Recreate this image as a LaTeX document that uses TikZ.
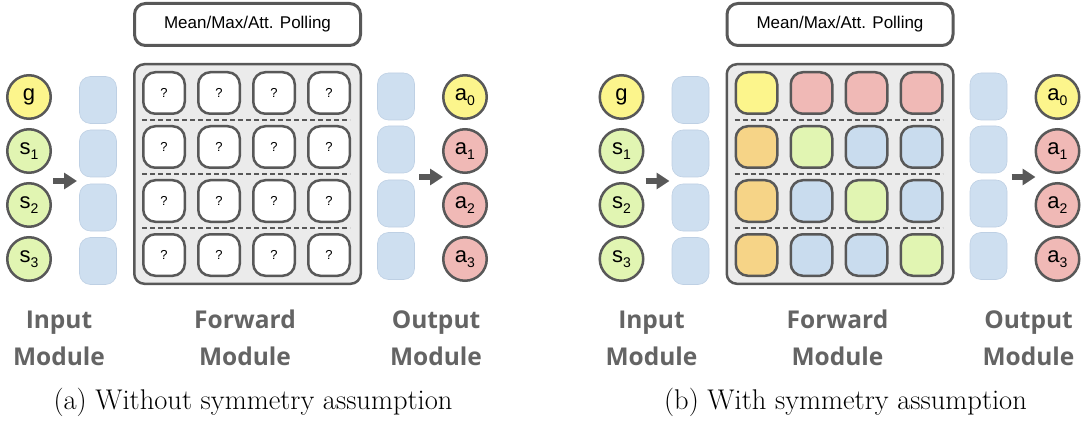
\documentclass[tikz,border=0pt]{standalone}
\usepackage{fontspec}
\usetikzlibrary{arrows.meta}
\newfontfamily\lsans{Liberation Sans}
\newfontfamily\modfont{Open Sans}
\definecolor{cyel}{RGB}{252,245,140}
\definecolor{cred}{RGB}{240,185,182}
\definecolor{cgrn}{RGB}{225,245,178}
\definecolor{cblu}{RGB}{201,220,238}
\definecolor{corg}{RGB}{246,212,135}
\definecolor{cbg}{RGB}{235,235,235}
\definecolor{cdark}{RGB}{88,88,88}
\definecolor{ctxt}{RGB}{100,100,100}
\definecolor{cemb}{RGB}{206,223,240}
\definecolor{cembd}{RGB}{190,208,228}
\newcommand{\mysub}[2]{#1\raisebox{-5pt}{\fontsize{14}{14}\selectfont #2}}
\tikzset{
 circ/.style={circle, draw=cdark, line width=2.5pt, minimum size=43.5pt, inner sep=0pt, font=\lsans\fontsize{22}{22}\selectfont},
 ebox/.style={rectangle, rounded corners=11pt, fill=cemb, draw=cembd, line width=0.6pt, minimum width=37pt, minimum height=47pt, inner sep=0pt},
 cell/.style={rectangle, rounded corners=12pt, draw=cdark, line width=2.5pt, minimum size=41.5pt, inner sep=0pt, font=\lsans\fontsize{13}{13}\selectfont},
 fwd/.style={rectangle, rounded corners=10pt, draw=cdark, line width=2.5pt, fill=cbg, minimum width=226.5pt, minimum height=219.5pt, inner sep=0pt},
 pool/.style={rectangle, rounded corners=11pt, draw=cdark, line width=3pt, fill=white, minimum width=226pt, minimum height=42pt, inner sep=0pt, font=\lsans\fontsize{17}{17}\selectfont},
 bigarr/.style={draw=cdark, line width=6pt, -{Triangle[length=13pt,width=16pt]}},
 modlabel/.style={align=center, font=\modfont\bfseries\fontsize{24.5}{37}\selectfont, text=ctxt},
 capt/.style={font=\fontsize{28.5}{32}\selectfont},
 sepline/.style={draw=cdark, line width=2pt, dash pattern=on 5pt off 3pt},
}
\newcommand{\panelframe}[1]{%
 \node[pool] (#1-pool) at (247.5,24.5) {Mean/Max/Att. Polling};
 \node[fwd] (#1-fwd) at (247.5,174) {};
 \node[circ, fill=cyel] (#1-in0) at (29,97) {g};
 \node[circ, fill=cgrn] (#1-in1) at (29,151) {\mysub{s}{1}};
 \node[circ, fill=cgrn] (#1-in2) at (29,205) {\mysub{s}{2}};
 \node[circ, fill=cgrn] (#1-in3) at (29,259) {\mysub{s}{3}};
 \node[circ, fill=cyel] (#1-out0) at (465,97) {\mysub{a}{0}};
 \node[circ, fill=cred] (#1-out1) at (465,151) {\mysub{a}{1}};
 \node[circ, fill=cred] (#1-out2) at (465,205) {\mysub{a}{2}};
 \node[circ, fill=cred] (#1-out3) at (465,259) {\mysub{a}{3}};
 \foreach \k/\y in {1/100,2/153.5,3/207.5,4/261} {\node[ebox] (#1-e\k) at (98,\y) {};}
 \foreach \k/\y in {1/96.5,2/149.5,3/203.5,4/256} {\node[ebox] (#1-o\k) at (396,\y) {};}
 \coordinate (#1-ia1) at (53,181); \coordinate (#1-ia2) at (77,181);
 \draw[bigarr] (#1-ia1) -- (#1-ia2);
 \coordinate (#1-oa1) at (419,177); \coordinate (#1-oa2) at (443,177);
 \draw[bigarr] (#1-oa1) -- (#1-oa2);
 \foreach \k/\y in {1/120,2/174,3/228} {\coordinate (#1-dl\k) at (142,\y); \coordinate (#1-dr\k) at (350,\y); \draw[sepline] (#1-dl\k) -- (#1-dr\k);}
 \node[modlabel] (#1-lin) at (59,338) {Input\\Module};
 \node[modlabel] (#1-lfw) at (245,338) {Forward\\Module};
 \node[modlabel] (#1-lout) at (436,338) {Output\\Module};
}
\begin{document}
\begin{tikzpicture}[x=1pt,y=-1pt]
\useasboundingbox (0,0) rectangle (1085,425);
\begin{scope}
 \panelframe{a}
 \foreach \r in {1,2,3,4} {\foreach \c in {1,2,3,4} {\node[cell, fill=white] (a-c\r\c) at ({164+(\c-1)*55},{93+(\r-1)*54}) {?};}}
 \node[capt] (a-cap) at (253,402) {(a) Without symmetry assumption};
\end{scope}
\begin{scope}[xshift=592.5pt]
 \panelframe{b}
 \foreach \r/\c/\col in {1/1/cyel,1/2/cred,1/3/cred,1/4/cred,2/1/corg,2/2/cgrn,2/3/cblu,2/4/cblu,3/1/corg,3/2/cblu,3/3/cgrn,3/4/cblu,4/1/corg,4/2/cblu,4/3/cblu,4/4/cgrn} {\node[cell, fill=\col] (b-c\r\c) at ({164+(\c-1)*55},{93+(\r-1)*54}) {};}
 \node[capt] (b-cap) at (253,402) {(b) With symmetry assumption};
\end{scope}
\end{tikzpicture}
\end{document}
